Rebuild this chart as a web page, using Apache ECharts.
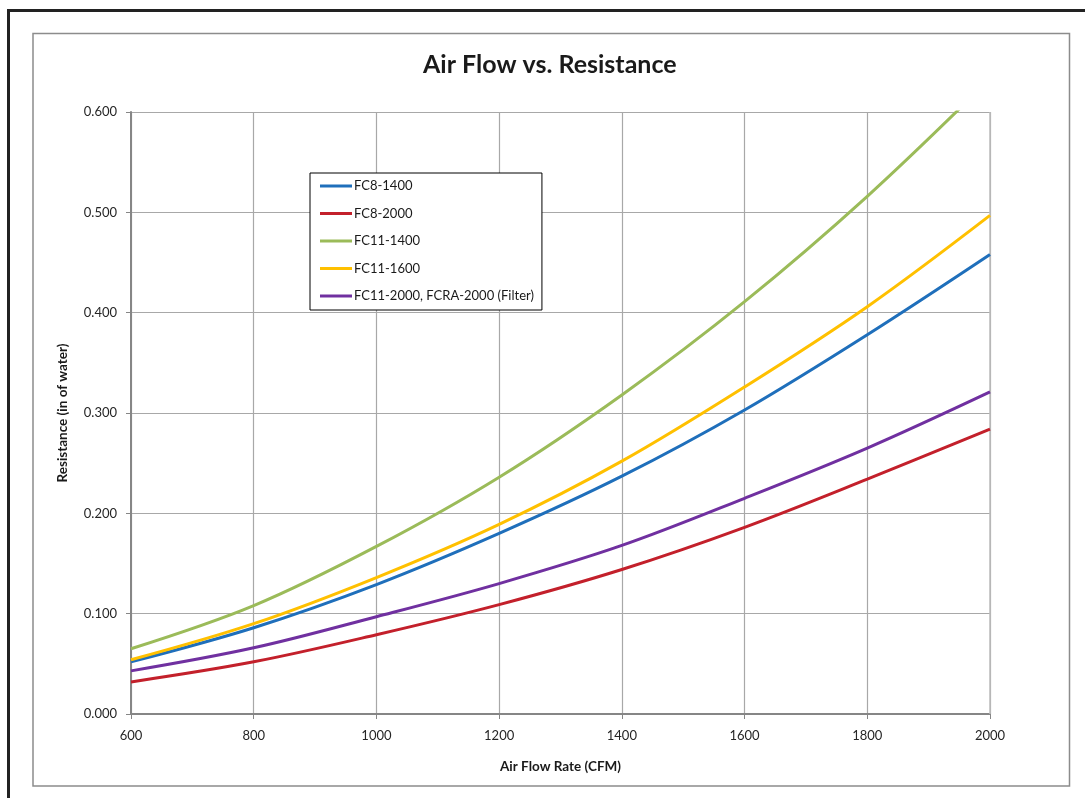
<!DOCTYPE html>
<html>
<head>
<meta charset="utf-8">
<script src="https://cdn.jsdelivr.net/npm/echarts@6/dist/echarts.min.js"></script>
<style>
html,body{margin:0;padding:0;background:#fff;overflow:hidden;}
#chart{width:1085px;height:798px;}
</style>
</head>
<body>
<div id="chart"></div>
<script>
// Air flow (CFM)
const airFlow = [600, 800, 1000, 1200, 1400, 1600, 1800, 2000];
// Resistance (in of water) per model
const fc8_1400  = [0.052, 0.086, 0.129, 0.180, 0.237, 0.303, 0.378, 0.458];
const fc8_2000  = [0.032, 0.052, 0.079, 0.109, 0.144, 0.186, 0.234, 0.284];
const fc11_1400 = [0.065, 0.108, 0.167, 0.236, 0.318, 0.411, 0.516, 0.633];
const fc11_1600 = [0.054, 0.090, 0.136, 0.189, 0.252, 0.326, 0.406, 0.497];
const fc11_2000 = [0.043, 0.066, 0.097, 0.130, 0.168, 0.215, 0.265, 0.321];

const seriesNames = ['FC8-1400', 'FC8-2000', 'FC11-1400', 'FC11-1600', 'FC11-2000, FCRA-2000 (Filter)'];
const seriesValues = [fc8_1400, fc8_2000, fc11_1400, fc11_1600, fc11_2000];
const seriesColors = ['#1f6fbb', '#c3202b', '#9bbb59', '#ffc000', '#7030a0'];

const FONT = 'Lato, "Open Sans", sans-serif';

const chart = echarts.init(document.getElementById('chart'), null, {renderer: 'canvas'});

const series = seriesNames.map((name, i) => ({
  name: name,
  type: 'line',
  data: airFlow.map((x, j) => [x, seriesValues[i][j]]),
  smooth: 0.35,
  showSymbol: false,
  symbol: 'none',
  clip: true,
  lineStyle: {color: seriesColors[i], width: 3},
  itemStyle: {color: seriesColors[i]},
  z: 3
}));

chart.setOption({
  animation: false,
  backgroundColor: '#fff',
  title: {
    text: 'Air Flow vs. Resistance',
    left: 423,
    top: 52,
    padding: 0,
    textStyle: {fontFamily: FONT, fontSize: 25, fontWeight: 'bold', color: '#1a1a1a'}
  },
  legend: {
    orient: 'vertical',
    left: 310,
    top: 173,
    padding: [6, 8, 7, 10],
    backgroundColor: '#fff',
    borderColor: '#000',
    borderWidth: 1,
    itemWidth: 32,
    itemHeight: 3,
    itemGap: 13.5,
    icon: 'rect',
    textStyle: {fontFamily: FONT, fontSize: 13, color: '#1a1a1a', lineHeight: 14, padding: [0, 0, 0, -3]},
    data: seriesNames
  },
  grid: {left: 131, right: 95, top: 112, bottom: 84, containLabel: false},
  xAxis: {
    type: 'value',
    min: 600, max: 2000, interval: 200,
    name: 'Air Flow Rate (CFM)',
    nameLocation: 'middle',
    nameGap: 46,
    nameTextStyle: {fontFamily: FONT, fontSize: 13.5, fontWeight: 'bold', color: '#1a1a1a'},
    axisLine: {show: true, onZero: false, lineStyle: {color: '#868686', width: 2}},
    axisTick: {show: true, length: 5, lineStyle: {color: '#868686'}},
    axisLabel: {fontFamily: FONT, fontSize: 13, color: '#262626', margin: 15,
      formatter: v => String(v)},
    splitLine: {show: true, lineStyle: {color: '#a8a8a8', width: 1.2}}
  },
  yAxis: {
    type: 'value',
    min: 0, max: 0.6, interval: 0.1,
    name: 'Resistance (in of water)',
    nameLocation: 'middle',
    nameGap: 61,
    nameTextStyle: {fontFamily: FONT, fontSize: 13.5, fontWeight: 'bold', color: '#1a1a1a'},
    axisLine: {show: true, lineStyle: {color: '#868686', width: 2}},
    axisTick: {show: true, length: 5, lineStyle: {color: '#868686'}},
    axisLabel: {fontFamily: FONT, fontSize: 13, color: '#262626', margin: 14,
      formatter: v => v.toFixed(3)},
    splitLine: {show: true, lineStyle: {color: '#a8a8a8', width: 1.2}}
  },
  graphic: [
    {type: 'rect', silent: true, z: 100,
     shape: {x: 8.5, y: 10.5, width: 1300, height: 1300},
     style: {fill: 'none', stroke: '#222', lineWidth: 3}},
    {type: 'rect', silent: true, z: 100,
     shape: {x: 33, y: 33.5, width: 1036.5, height: 752.5},
     style: {fill: 'none', stroke: '#8c8c8c', lineWidth: 1.5}},
    {type: 'line', silent: true, z: 1,
     shape: {x1: 990, y1: 112, x2: 990, y2: 714},
     style: {stroke: '#bdbdbd', lineWidth: 1.5}}
  ],
  series: series
});
</script>
</body>
</html>
